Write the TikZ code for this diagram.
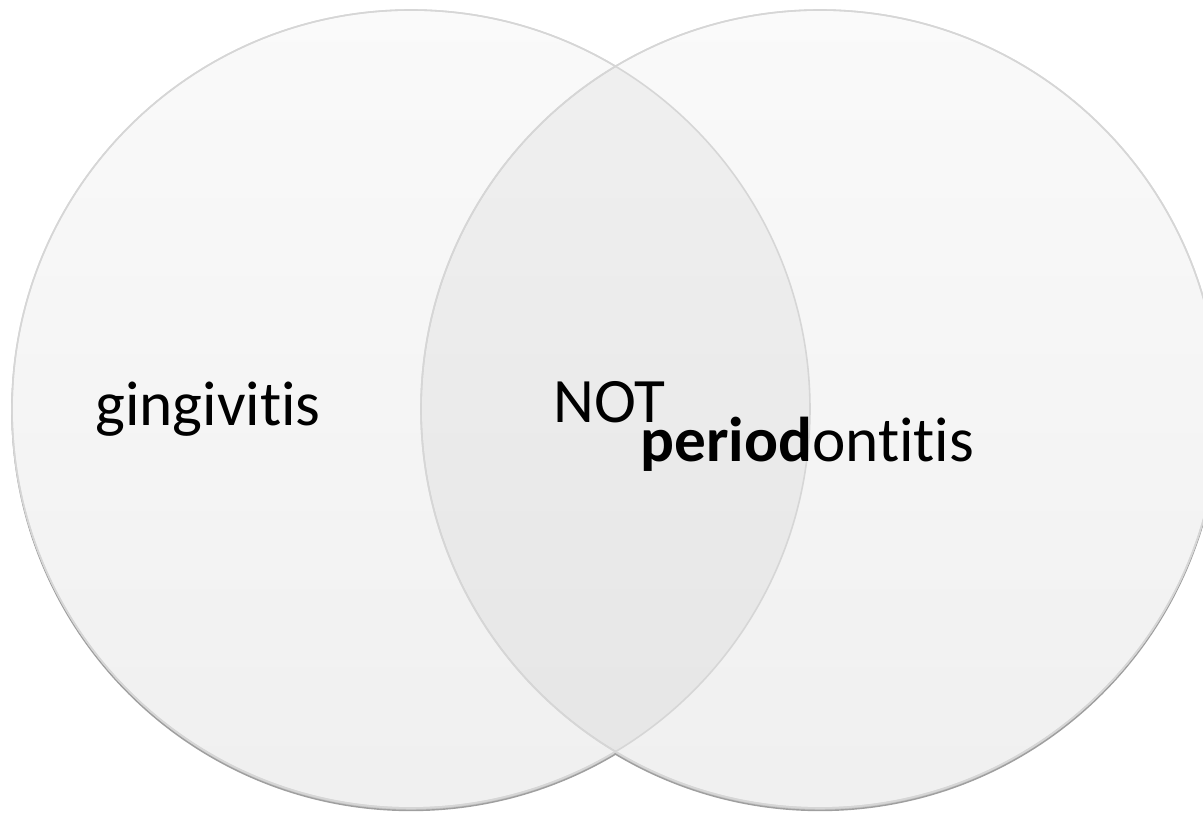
\documentclass[tikz,border=0pt]{standalone}
\usepackage{fontspec}
\setmainfont{Carlito}[Ligatures=NoCommon]
\usetikzlibrary{positioning}

\begin{document}
\begin{tikzpicture}[
  every node/.style = {font=\fontsize{36}{43}\selectfont, inner sep=0pt},
  ring/.style   = {circle, draw=gray!32, line width=0.9pt,
                   top color=gray!4, bottom color=gray!12,
                   minimum size=15.96cm},
  ringshad/.style = {circle, draw=gray!75, line width=0.8pt,
                     fill=gray!45, minimum size=15.96cm},
  label/.style  = {anchor=base west, text=black},
]
\useasboundingbox (0,0) rectangle (24.06,16.26);

%% ══ CIRCLES: shadow, then fill ═════════════════════════════════════════
\node[ringshad] (gumsh)  at (8.22, 8.03)  {};
\node[ringshad] (perish) at (16.40, 8.03) {};

\node[ring] (gum)  at (8.22, 8.08)  {};
\node[ring] (peri) at (16.40, 8.08) {};

%% ── overlap lens ────────────────────────────────────────────────────────
\begin{scope}
  \clip (gum.center) circle (7.98);
  \fill[black, opacity=0.04] (peri.center) circle (7.98);
\end{scope}

%% ── outlines on top ─────────────────────────────────────────────────────
\draw[gray!32, line width=0.9pt] (gum.center)  circle (7.98);
\draw[gray!32, line width=0.9pt] (peri.center) circle (7.98);

%% ══ LABELS ══════════════════════════════════════════════════════════════
\node[label] at (1.90, 7.74)  (ging)  {gingivitis};
\node[label] at (11.06, 7.80) (nott)  {NOT};
\node[label] at (12.80, 7.02) (perio) {\textbf{period}ontitis};

\end{tikzpicture}
\end{document}
